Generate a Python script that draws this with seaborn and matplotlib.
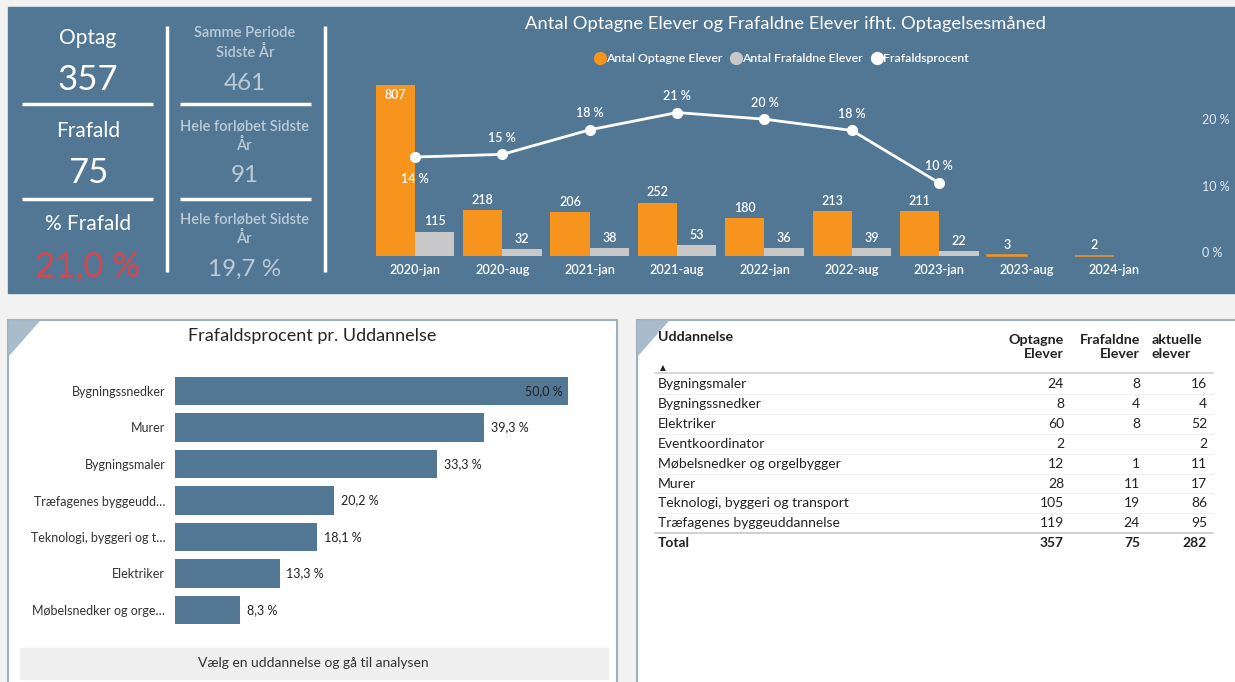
import numpy as np
import pandas as pd
import seaborn as sns
import matplotlib.pyplot as plt
from matplotlib.patches import Rectangle, Polygon
from matplotlib.lines import Line2D

# Data til kombinationsdiagrammet
maaneder = ['2020-jan', '2020-aug', '2021-jan', '2021-aug', '2022-jan',
            '2022-aug', '2023-jan', '2023-aug', '2024-jan']
optagne = [807, 218, 206, 252, 180, 213, 211, 3, 2]
frafaldne = [115, 32, 38, 53, 36, 39, 22, np.nan, np.nan]
frafaldspct = [14.3, 14.7, 18.4, 21.0, 20.0, 18.3, 10.4]

# Data til søjlediagram pr. uddannelse
udd_navne = ['Bygningssnedker', 'Murer', 'Bygningsmaler', 'Træfagenes byggeudd…',
             'Teknologi, byggeri og t…', 'Elektriker', 'Møbelsnedker og orge…']
udd_pct = [50.0, 39.3, 33.3, 20.2, 18.1, 13.3, 8.3]

# Data til tabellen
tabel_udd = ['Bygningsmaler', 'Bygningssnedker', 'Elektriker', 'Eventkoordinator',
             'Møbelsnedker og orgelbygger', 'Murer', 'Teknologi, byggeri og transport',
             'Træfagenes byggeuddannelse']
tabel_optagne = [24, 8, 60, 2, 12, 28, 105, 119]
tabel_frafaldne = [8, 4, 8, None, 1, 11, 19, 24]
tabel_aktuelle = [16, 4, 52, 2, 11, 17, 86, 95]
tabel_total = [357, 75, 282]

# Nøgletal
kpi_venstre = [('Optag', '357'), ('Frafald', '75'), ('% Frafald', '21,0 %')]
kpi_hoejre = [('Samme Periode\nSidste År', '461'), ('Hele forløbet Sidste\nÅr', '91'),
              ('Hele forløbet Sidste\nÅr', '19,7 %')]

BLAA = '#527795'
ORANGE = '#f7941d'
GRAA = '#c8c8c8'
LYS = '#bccad6'

sns.set_theme(style='white')
plt.rcParams['font.family'] = ['Lato', 'DejaVu Sans']

W, H = 1235, 682
fig = plt.figure(figsize=(W / 100, H / 100), dpi=100)
fig.patch.set_facecolor('#f2f2f2')


def px_rect(x0, y0, x1, y1):
    return [x0 / W, 1 - y1 / H, (x1 - x0) / W, (y1 - y0) / H]


# Baggrundsakse i pixelkoordinater
bg = fig.add_axes([0, 0, 1, 1], zorder=0)
bg.set_xlim(0, W)
bg.set_ylim(H, 0)
bg.axis('off')

# Øverste blå panel
bg.add_patch(Rectangle((8, 7), W - 8, 286, color=BLAA))

# Nøgletal
for i, (lbl, val) in enumerate(kpi_venstre):
    y = 38 + i * 93
    bg.text(88, y, lbl, color='white', fontsize=15, ha='center', va='center')
    bg.text(88, y + 42, val, color='#d64550' if i == 2 else 'white',
            fontsize=25, ha='center', va='center')
for i, (lbl, val) in enumerate(kpi_hoejre):
    y = 43 + i * 93
    bg.text(245, y, lbl, color=LYS, fontsize=10.5, fontweight='semibold',
            ha='center', va='center', linespacing=1.35)
    bg.text(245, y + 40, val, color=LYS, fontsize=17.5, ha='center', va='center')
for x0, x1 in [(22, 153), (180, 311)]:
    for y in [104, 199]:
        bg.plot([x0, x1], [y, y], color='white', lw=2.5, solid_capstyle='butt')
for x in [167, 325]:
    bg.plot([x, x], [26, 272], color='white', lw=2.5, solid_capstyle='butt')

# Kombinationsdiagram
bg.text(785, 24, 'Antal Optagne Elever og Frafaldne Elever ifht. Optagelsesmåned',
        color='white', fontsize=13.2, ha='center', va='center')

ax = fig.add_axes(px_rect(370, 80, 1190, 256), zorder=2)
ax.set_facecolor('none')
df_bar = pd.DataFrame({
    'maaned': maaneder * 2,
    'serie': ['Antal Optagne Elever'] * len(maaneder) + ['Antal Frafaldne Elever'] * len(maaneder),
    'antal': optagne + frafaldne,
})
sns.barplot(data=df_bar, x='maaned', y='antal', hue='serie', order=maaneder,
            palette=[ORANGE, GRAA], saturation=1, width=0.9, gap=0,
            errorbar=None, legend=False, linewidth=0, ax=ax)
ax.set_ylim(0, max(optagne) * 1.03)
for cont in ax.containers:
    for bar in cont:
        h = bar.get_height()
        if np.isnan(h) or h == 0:
            continue
        xc = bar.get_x() + bar.get_width() / 2
        if h < 10:
            # meget små søjler vises som en tynd streg
            bar.set_edgecolor(bar.get_facecolor())
            bar.set_linewidth(1.1)
            bar.set_clip_on(False)
        if h > 0.8 * max(optagne):
            ax.annotate(f'{h:.0f}', (xc, h), xytext=(0, -3), textcoords='offset points',
                        ha='center', va='top', color='white', fontsize=9, fontweight='semibold')
        else:
            ax.annotate(f'{h:.0f}', (xc, h), xytext=(0, 3), textcoords='offset points',
                        ha='center', va='bottom', color='white', fontsize=9, fontweight='semibold')

ax2 = ax.twinx()
ax2.set_facecolor('none')
df_linje = pd.DataFrame({'maaned': maaneder[:len(frafaldspct)], 'pct': frafaldspct})
sns.pointplot(data=df_linje, x='maaned', y='pct', order=maaneder, color='white',
              errorbar=None, markersize=6.5, linewidth=2, ax=ax2)
ax2.set_ylim(-0.6, 25.9)
for i, v in enumerate(frafaldspct):
    dy = -16 if i == 0 else 12
    ax2.annotate(f'{v:.0f} %', (i, v), xytext=(0, dy), textcoords='offset points',
                 ha='center', va='center', color='white', fontsize=9, fontweight='semibold')
ax2.set_yticks([0, 10, 20])
ax2.set_yticklabels(['0 %', '10 %', '20 %'])
ax2.tick_params(axis='y', length=0, pad=9, labelsize=9, labelcolor='#e4eaf0')
ax.set_xlim(-0.515, 8.87)
ax.set_yticks([])
ax.tick_params(axis='x', length=0, pad=6, labelsize=9.2, labelcolor='white')
for lab in ax.get_xticklabels():
    lab.set_fontweight('semibold')
for a in (ax, ax2):
    a.set_xlabel('')
    a.set_ylabel('')
    for s in a.spines.values():
        s.set_visible(False)

handles = [Line2D([], [], marker='o', ls='', color=c, markersize=8.5) for c in (ORANGE, GRAA, 'white')]
fig.legend(handles, ['Antal Optagne Elever', 'Antal Frafaldne Elever', 'Frafaldsprocent'],
           ncol=3, loc='center', bbox_to_anchor=(782 / W, 1 - 59 / H), frameon=False,
           handlelength=0.7, handletextpad=0.15, columnspacing=0.8, labelcolor='white',
           prop={'size': 8.8, 'weight': 'semibold'})

# Nederste paneler
for x0, x1 in [(8, 617), (637, W + 5)]:
    bg.add_patch(Rectangle((x0, 320), x1 - x0, H - 320 + 5, facecolor='white',
                           edgecolor='#9fb0bf', lw=1.5))
    bg.add_patch(Polygon([(x0 + 1, 321), (x0 + 31, 321), (x0 + 1, 355)], color='#a9bccb'))

bg.text(312, 336, 'Frafaldsprocent pr. Uddannelse', color='#252525', fontsize=13,
        ha='center', va='center')
bg.add_patch(Rectangle((20, 648), 588, 31, color='#efefef'))
bg.text(313, 663, 'Vælg en uddannelse og gå til analysen', color='#333333', fontsize=10,
        ha='center', va='center')

ax3 = fig.add_axes(px_rect(175, 372.75, 600, 628.25), zorder=2)
ax3.set_facecolor('none')
sns.barplot(x=udd_pct, y=udd_navne, orient='h', color=BLAA, saturation=1, width=0.77,
            errorbar=None, linewidth=0, ax=ax3)
ax3.set_xlim(0, max(udd_pct) * 1.0815)
ax3.set_ylim(len(udd_navne) - 0.5, -0.5)
for bar, v in zip(ax3.patches, udd_pct):
    yc = bar.get_y() + bar.get_height() / 2
    tekst = f'{v:.1f} %'.replace('.', ',')
    if v == max(udd_pct):
        ax3.annotate(tekst, (v, yc), xytext=(-4, 0), textcoords='offset points',
                     ha='right', va='center', color='#222222', fontsize=9)
    else:
        ax3.annotate(tekst, (v, yc), xytext=(5, 0), textcoords='offset points',
                     ha='left', va='center', color='#222222', fontsize=9)
ax3.set_xticks([])
ax3.tick_params(axis='y', length=0, pad=7, labelsize=9, labelcolor='#333333')
sns.despine(ax=ax3, left=True, bottom=True)

# Tabel
kol_x = [1064, 1140, 1207]
bg.text(658, 337, 'Uddannelse', fontsize=10.3, fontweight='bold', color='#222222', va='center')
bg.text(1064, 347, 'Optagne\nElever', fontsize=10.3, fontweight='bold', color='#222222',
        ha='right', va='center', linespacing=1.25)
bg.text(1140, 347, 'Frafaldne\nElever', fontsize=10.3, fontweight='bold', color='#222222',
        ha='right', va='center', linespacing=1.25)
bg.text(1152, 347, 'aktuelle\nelever', fontsize=10.3, fontweight='bold', color='#222222',
        ha='left', va='center', linespacing=1.25)
bg.text(663, 368, '▲', fontsize=5.5, color='#222222', ha='center', va='center', family='DejaVu Sans')
bg.plot([655, 1213], [373, 373], color='#d0d0d0', lw=1.2)
for i, navn in enumerate(tabel_udd):
    y = 384.5 + i * 19.8
    bg.text(658, y, navn, fontsize=10, color='#222222', va='center')
    for x, v in zip(kol_x, (tabel_optagne[i], tabel_frafaldne[i], tabel_aktuelle[i])):
        if v is not None:
            bg.text(x, y, str(v), fontsize=10, color='#222222', ha='right', va='center')
    if i < len(tabel_udd) - 1:
        bg.plot([655, 1213], [y + 9.9, y + 9.9], color='#f0f0f0', lw=0.8)
bg.plot([655, 1213], [533, 533], color='#c8c8c8', lw=1.2)
bg.text(658, 543, 'Total', fontsize=10, fontweight='bold', color='#222222', va='center')
for x, v in zip(kol_x, tabel_total):
    bg.text(x, 543, str(v), fontsize=10, fontweight='bold', color='#222222', ha='right', va='center')

fig.savefig('out.png', dpi=100, facecolor=fig.get_facecolor())
